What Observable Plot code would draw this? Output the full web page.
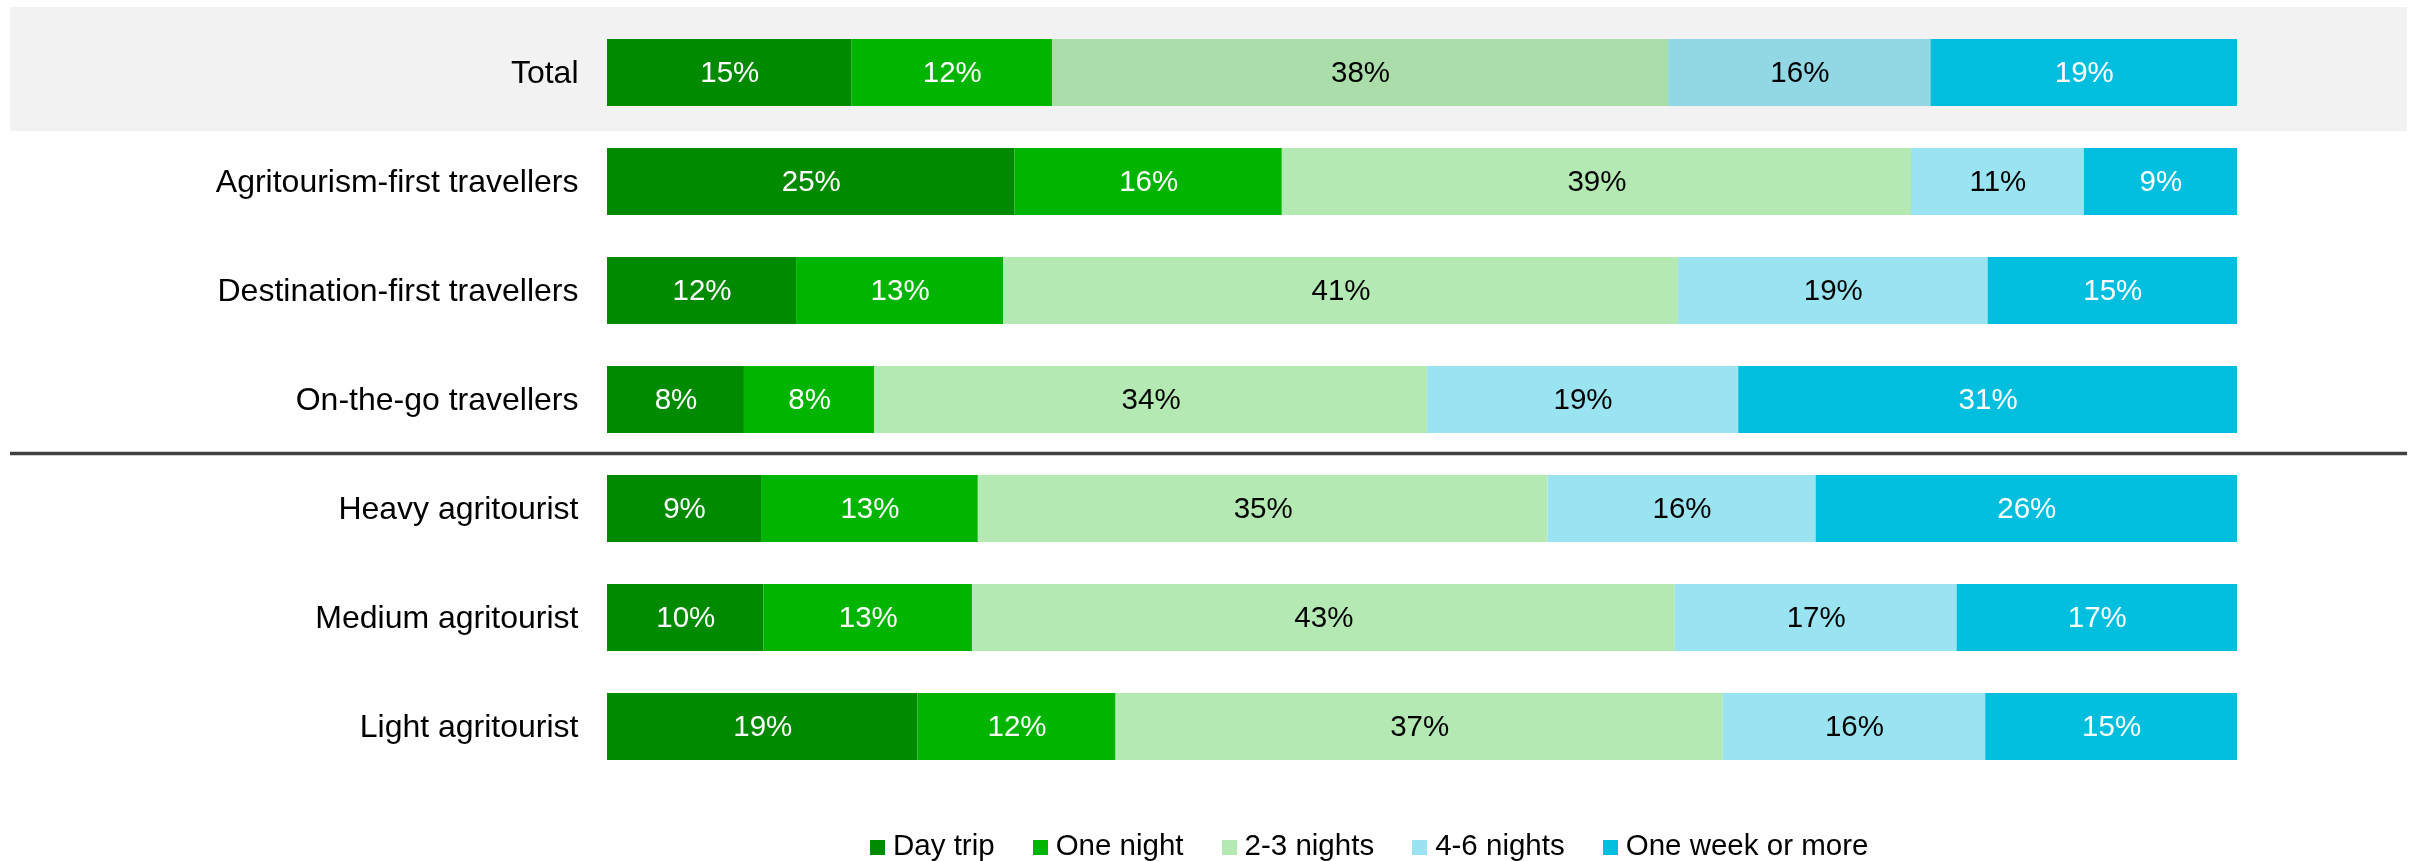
<!DOCTYPE html>
<html>
<head>
<meta charset="utf-8">
<script src="https://cdn.jsdelivr.net/npm/d3@7"></script>
<script src="https://cdn.jsdelivr.net/npm/@observablehq/plot@0.6"></script>
<style>
  html, body { margin: 0; padding: 0; background: #ffffff; }
  body { width: 2412px; height: 861px; overflow: hidden; font-family: "Liberation Sans", Arial, sans-serif; }
  #chart svg { display: block; }
  #legend { display: flex; align-items: baseline; margin-top: 29px; padding-left: 870px; font-size: 29.5px; line-height: 32px; color: #000; white-space: nowrap; }
  #legend .item { display: inline-flex; align-items: baseline; margin-right: 38px; }
  #legend .sw { display: inline-block; width: 15px; height: 15px; margin-right: 8px; }
</style>
</head>
<body>
<div id="chart"></div>
<div id="legend"></div>
<script>
// Categories (rows, top to bottom)
const groups = [
  "Total",
  "Agritourism-first travellers",
  "Destination-first travellers",
  "On-the-go travellers",
  "Heavy agritourist",
  "Medium agritourist",
  "Light agritourist"
];
// Series (stack order, left to right)
const series = ["Day trip", "One night", "2-3 nights", "4-6 nights", "One week or more"];
const seriesColors = ["#008a00", "#00b400", "#b4e9b4", "#9ae4f1", "#00bedd"];
const whiteTextSeries = ["Day trip", "One night", "One week or more"];
const shadedTotalSeries = ["2-3 nights", "4-6 nights"];

// Values (% share per row)
const dayTrip    = [15.0, 25.0, 11.6,  8.4,  9.45,  9.6, 19.05];
const oneNight   = [12.3, 16.4, 12.7,  8.0, 13.3,  12.8, 12.15];
const twoThree   = [37.8, 38.6, 41.4, 33.9, 34.95, 43.1, 37.25];
const fourSix    = [16.1, 10.6, 19.0, 19.1, 16.45, 17.3, 16.1];
const oneWeek    = [18.8,  9.4, 15.3, 30.6, 25.85, 17.2, 15.45];

const seriesValues = [dayTrip, oneNight, twoThree, fourSix, oneWeek];

const table = [];
groups.forEach((g, gi) => {
  series.forEach((s, si) => {
    table.push({group: g, series: s, value: seriesValues[si][gi]});
  });
});

const fontFamily = '"Liberation Sans", Arial, sans-serif';
const pct = d => Math.round(d.value) + "%";

const chart = Plot.plot({
  width: 2412,
  height: 800,
  marginLeft: 10,
  marginRight: 5,
  marginTop: 0,
  marginBottom: 0,
  style: {fontFamily, background: "transparent"},
  x: {domain: [0, 100], range: [607, 2237], axis: null},
  y: {domain: groups, range: [37, 763], paddingInner: 0.385, paddingOuter: 0, axis: null},
  color: {domain: series, range: seriesColors},
  opacity: {type: "identity"},
  marks: [
    // grey highlight band for the Total row
    Plot.cell(["Total"], {y: d => d, fill: "#f2f2f2", insetTop: -32, insetBottom: -25}),
    Plot.barX(table, Plot.stackX({x: "value", y: "group", fill: "series", order: null})),
    // light segments of the Total row appear slightly shaded
    Plot.barX(table, Plot.stackX({
      x: "value", y: "group", order: null, fill: "#f2f2f2", mixBlendMode: "multiply",
      fillOpacity: d => (d.group === "Total" && shadedTotalSeries.includes(d.series)) ? 1 : 0
    })),
    // divider between segment groups
    Plot.ruleY(["Heavy agritourist"], {y: d => d, dy: -55.5, stroke: "#404040", strokeWidth: 3.5}),
    // row labels
    Plot.text(groups, {x: () => 0, y: d => d, text: d => d, dx: -29, textAnchor: "end", fontSize: 32, fill: "#000"}),
    // value labels (stacked over all series, then blanked per colour)
    Plot.text(table, Plot.stackX({
      x: "value", y: "group", order: null,
      text: d => whiteTextSeries.includes(d.series) ? pct(d) : null,
      fill: "#ffffff", fontSize: 29.5
    })),
    Plot.text(table, Plot.stackX({
      x: "value", y: "group", order: null,
      text: d => whiteTextSeries.includes(d.series) ? null : pct(d),
      fill: "#000000", fontSize: 29.5
    }))
  ]
});
document.getElementById("chart").appendChild(chart);

// Legend
const legend = d3.select("#legend");
series.forEach((s, i) => {
  const item = legend.append("span").attr("class", "item");
  item.append("span").attr("class", "sw").style("background", seriesColors[i]);
  item.append("span").text(s);
});
</script>
</body>
</html>
